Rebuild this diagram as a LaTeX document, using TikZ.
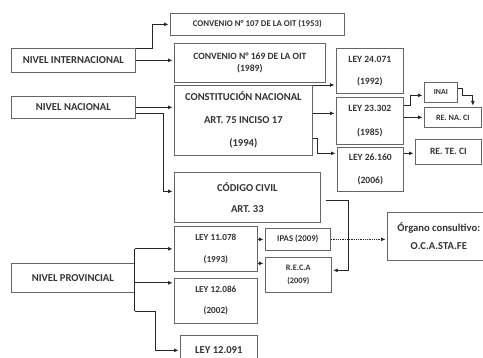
\documentclass[tikz,border=0pt]{standalone}
\usepackage{fontspec}
\setmainfont{Carlito}
\usetikzlibrary{arrows.meta}
\begin{document}
\begin{tikzpicture}[x=1pt,y=-1pt,
  box/.style={draw=black!60, line width=0.7pt, inner sep=0pt, anchor=north west, align=center, text=black!80},
  arr/.style={draw=black!85, line width=0.8pt, -{Latex[length=4.5pt,width=4pt]}, shorten >=1.5pt},
  ln/.style={draw=black!85, line width=0.8pt},
  dotarr/.style={arr, densely dotted}]
\useasboundingbox (0,0) rectangle (483,358);

% left column
\node[box, minimum width=124pt, minimum height=24pt, font=\bfseries\fontsize{10.6}{13}\selectfont] (nint) at (11,48) {NIVEL INTERNACIONAL};
\node[box, minimum width=124pt, minimum height=22pt, font=\bfseries\fontsize{10.6}{13}\selectfont] (nnac) at (11,96) {NIVEL NACIONAL};
\node[box, minimum width=123pt, minimum height=29pt, font=\bfseries\fontsize{10.6}{13}\selectfont] (nprov) at (11,263) {NIVEL PROVINCIAL};

% second column
\node[box, minimum width=174pt, minimum height=22pt, font=\bfseries\fontsize{8.8}{11}\selectfont] (c107) at (170,13) {CONVENIO N° 107 DE LA OIT (1953)};
\node[box, minimum width=151pt, minimum height=39pt, font=\bfseries\fontsize{9.6}{12}\selectfont] (c169) at (174,43) {CONVENIO N° 169 DE LA OIT\\(1989)};
\node[box, minimum width=138pt, minimum height=70pt, font=\bfseries\fontsize{10.6}{23}\selectfont] (const) at (174,85) {CONSTITUCIÓN NACIONAL\\ART. 75 INCISO 17\\(1994)};
\node[box, minimum width=146pt, minimum height=50pt, font=\bfseries\fontsize{10.6}{21}\selectfont] (codigo) at (174,172) {CÓDIGO CIVIL\\ART. 33};
\node[box, minimum width=83pt, minimum height=45pt, font=\bfseries\fontsize{9.2}{22}\selectfont] (l11) at (174,226) {LEY 11.078\\(1993)};
\node[box, minimum width=83pt, minimum height=45pt, font=\bfseries\fontsize{9.2}{21}\selectfont] (l12086) at (174,278) {LEY 12.086\\(2002)};
\node[box, minimum width=77pt, minimum height=30pt, font=\bfseries\fontsize{10.6}{13}\selectfont] (l12091) at (180,335) {LEY 12.091};

% third column
\node[box, minimum width=65pt, minimum height=22pt, font=\bfseries\fontsize{8.8}{11}\selectfont] (ipas) at (265,228) {IPAS (2009)};
\node[box, minimum width=66pt, minimum height=35pt, font=\bfseries\fontsize{8.3}{13}\selectfont] (reca) at (265,257) {R.E.C.A\\(2009)};
\node[box, minimum width=67pt, minimum height=45pt, font=\bfseries\fontsize{9.6}{22}\selectfont] (l24) at (336,48) {LEY 24.071\\(1992)};
\node[box, minimum width=67pt, minimum height=47pt, font=\bfseries\fontsize{9.6}{24}\selectfont] (l23) at (336,97) {LEY 23.302\\(1985)};
\node[box, minimum width=66pt, minimum height=44pt, font=\bfseries\fontsize{9.6}{23}\selectfont] (l26) at (337,147) {LEY 26.160\\(2006)};
\node[box, minimum width=103pt, minimum height=48pt, font=\bfseries\fontsize{10.6}{18}\selectfont] (organo) at (387,212) {Órgano consultivo:\\O.C.A.STA.FE};

% right column
\node[box, minimum width=33pt, minimum height=20pt, font=\bfseries\fontsize{7.8}{10}\selectfont] (inai) at (424,82) {INAI};
\node[box, minimum width=57pt, minimum height=20pt, font=\bfseries\fontsize{8.2}{10}\selectfont] (renaci) at (424,107) {RE. NA. CI};
\node[box, minimum width=66pt, minimum height=25pt, font=\bfseries\fontsize{9.6}{12}\selectfont] (reteci) at (415,139) {RE. TE. CI};

\coordinate (p12086) at ([yshift=18pt]l12086.west);
\coordinate (preca) at ([yshift=11.5pt]reca.west);

% connectors: international
\draw[arr] (nint.north east) -- ++(17,0) |- (c107.west);
\draw[arr] (nint.east) -- (nint.east -| c169.west);
% national
\draw[arr] (nnac.east) -- (nnac.east -| const.west);
\draw[arr] ([yshift=-6pt]nnac.east) -- ++(28,0) |- ([yshift=6pt]codigo.west);
\draw[arr] (const.north east) -- (const.north east -| l24.west);
\draw[arr] ([yshift=7pt]const.east) -- ([yshift=7pt]const.east -| l23.west);
\draw[arr] ([yshift=-18pt]const.east) -- ++(5,0) |- ([yshift=16pt]l26.west);
\draw[arr] ([yshift=15.5pt]l23.east) -- ++(7,0) |- ([yshift=-3pt]inai.west);
\draw[arr] (renaci.west -| l23.east) -- (renaci.west);
\draw[arr] ([yshift=4pt]inai.east) -- ++(5,0) -- ++(0,7) -| ([xshift=20pt]renaci.north);
\draw[arr] ([yshift=16pt]l26.east) -- ([yshift=16pt]l26.east -| reteci.west);
\draw[arr] ([xshift=5pt,yshift=-3pt]codigo.east) -- ++(23,0) |- ([yshift=4.5pt]reca.east);
% provincial
\draw[ln] (nprov.east |- l11.west) -- ([yshift=-33.5pt]nprov.east);
\draw[arr] (nprov.east |- l11.west) -- (l11.west);
\draw[arr] (nprov.east |- p12086) -- (p12086);
\draw[arr] ([yshift=-33.5pt]nprov.east) -- ++(21,0) |- (l12091.west);
\draw[arr] (ipas.west -| l11.east) -- (ipas.west);
\draw[arr] (preca -| l11.east) -- (preca);
\draw[dotarr] (ipas.east) -- (ipas.east -| organo.west);
\end{tikzpicture}
\end{document}
